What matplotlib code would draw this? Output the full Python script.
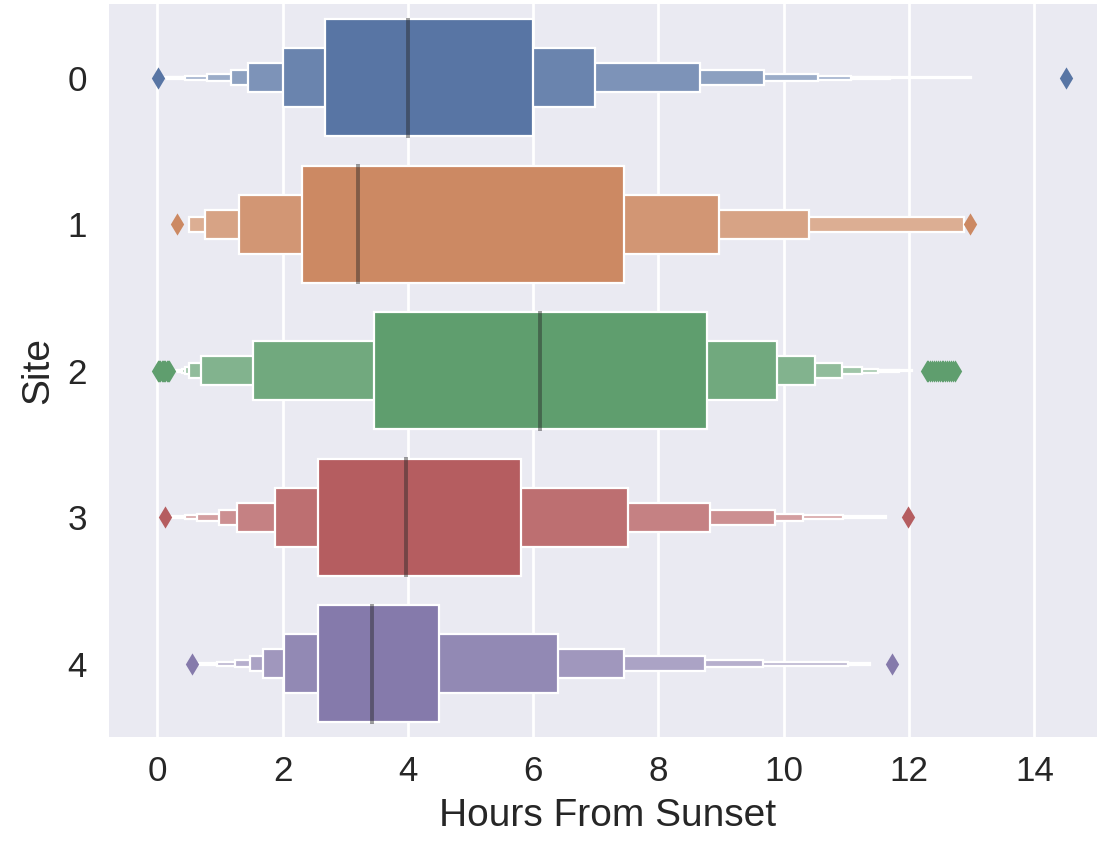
import matplotlib
matplotlib.use("Agg")
import matplotlib.pyplot as plt
import matplotlib.colors as mcolors

plt.rcParams["font.family"] = ["Liberation Sans", "DejaVu Sans"]

# Sites on the y axis
SITES = [0, 1, 2, 3, 4]
SITE_LABELS = ["0", "1", "2", "3", "4"]

# Letter values (hours from sunset), innermost box first
LOWER = [
    [2.68, 2.00, 1.45, 1.17, 0.80, 0.45, 0.16, 0.08],
    [2.31, 1.30, 0.77, 0.51],
    [3.46, 1.53, 0.70, 0.51, 0.45, 0.40, 0.33, 0.28],
    [2.57, 1.88, 1.27, 0.98, 0.64, 0.45, 0.21],
    [2.56, 2.03, 1.69, 1.48, 1.24, 0.95, 0.61],
]
UPPER = [
    [5.99, 6.98, 8.66, 9.68, 10.55, 11.08, 11.70, 12.99],
    [7.45, 8.97, 10.41, 12.88],
    [8.78, 9.90, 10.50, 10.93, 11.25, 11.51, 11.84, 12.05],
    [5.81, 7.52, 8.83, 9.86, 10.30, 10.95, 11.64],
    [4.50, 6.40, 7.45, 8.75, 9.67, 11.03, 11.37],
]
MEDIANS = [4.00, 3.21, 6.11, 3.97, 3.43]
OUTLIERS = [
    [0.02, 14.50],
    [0.32, 12.98],
    [0.01, 0.03, 0.05, 0.07, 0.09, 0.11, 0.13, 0.15, 0.17, 0.19,
     12.28, 12.31, 12.34, 12.37, 12.40, 12.43, 12.46, 12.49, 12.52,
     12.55, 12.58, 12.61, 12.64, 12.67, 12.70, 12.73],
    [0.13, 11.99],
    [0.55, 11.73],
]

COLORS = ["#5875a4", "#cc8963", "#5f9e6e", "#b55d60", "#857aab"]
# fraction of white mixed into each successive level
LIGHTEN = [0.0, 0.11, 0.22, 0.31, 0.40, 0.48, 0.55, 0.60]

TEXT = "#262626"


def blend(color, t):
    r, g, b = mcolors.to_rgb(color)
    return (r + (1 - r) * t, g + (1 - g) * t, b + (1 - b) * t)


fig = plt.figure(figsize=(5.485, 4.215), dpi=200)
ax = fig.add_axes([109 / 1097, 1 - 737 / 843, (1107 - 109) / 1097, (737 - 4.5) / 843])
ax.set_facecolor("#EAEAF2")
ax.set_axisbelow(True)
ax.xaxis.grid(True, color="white", linewidth=1.0)
ax.yaxis.grid(False)

for site, lo, hi, med, outs, color in zip(SITES, LOWER, UPPER, MEDIANS, OUTLIERS, COLORS):
    n = len(lo)
    # outermost level first, inner levels on top
    for k in reversed(range(n)):
        ax.barh(site, hi[k] - lo[k], left=lo[k], height=0.8 * 0.5 ** k,
                color=blend(color, LIGHTEN[k]), edgecolor="white",
                linewidth=0.8, zorder=2 + (n - k) * 0.01)
    ax.vlines(med, site - 0.41, site + 0.41, color=".15", alpha=0.45,
              linewidth=1.4, zorder=3)
    ax.scatter(outs, [site] * len(outs), marker="d", s=32, color=color,
               linewidths=0, zorder=3)

ax.set_xlim(-0.77, 15.16)
ax.set_ylim(4.5, -0.5)
ax.set_xticks(range(0, 15, 2))
ax.set_yticks(SITES)
ax.set_yticklabels(SITE_LABELS)
ax.tick_params(axis="x", length=0, pad=6.5, labelsize=12.6, labelcolor=TEXT)
ax.tick_params(axis="y", length=0, pad=8.0, labelsize=12.6, labelcolor=TEXT)
for spine in ax.spines.values():
    spine.set_visible(False)

ax.set_xlabel("Hours From Sunset", fontsize=14, color=TEXT)
ax.set_ylabel("Site", fontsize=14, color=TEXT)
ax.xaxis.set_label_coords(0.5, -0.083)
ax.yaxis.set_label_coords(-0.053, 0.5)

fig.savefig("out.png", dpi=200, facecolor="white")
